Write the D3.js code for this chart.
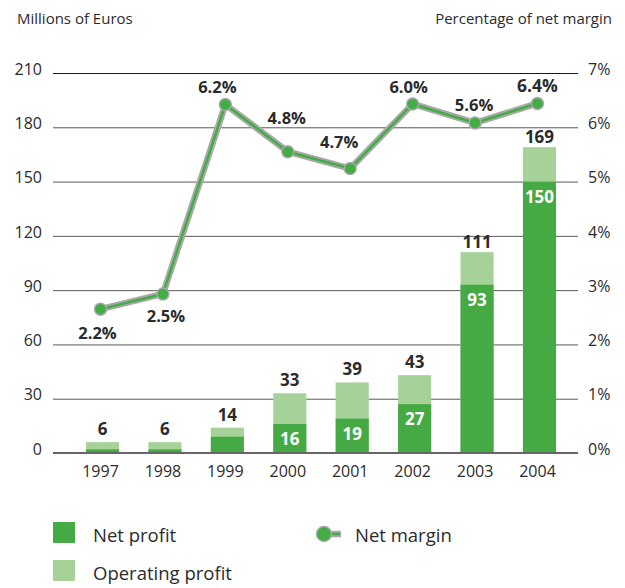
<!DOCTYPE html>
<html>
<head>
<meta charset="utf-8">
<script src="https://cdn.jsdelivr.net/npm/d3@7"></script>
<style>
  body { margin: 0; background: #fff; }
  svg { display: block; font-family: "Open Sans", "Noto Sans", sans-serif; }
</style>
</head>
<body>
<svg id="chart" width="625" height="588"></svg>
<script>
const years = ['1997', '1998', '1999', '2000', '2001', '2002', '2003', '2004'];
const operatingProfit = [6, 6, 14, 33, 39, 43, 111, 169];
const netProfit = [2, 2, 9, 16, 19, 27, 93, 150];
// where the markers sit on the right axis
const netMarginPlot = [2.65, 2.93, 6.42, 5.55, 5.24, 6.43, 6.08, 6.44];
const netMarginLabels = ['2.2%', '2.5%', '6.2%', '4.8%', '4.7%', '6.0%', '5.6%', '6.4%'];
const leftTicks = [0, 30, 60, 90, 120, 150, 180, 210];
const rightTicks = [0, 1, 2, 3, 4, 5, 6, 7];

const darkGreen = '#45aa43';
const lightGreen = '#a6d199';
const lineGreen = '#43ad45';
const lineGrey = '#a9a9a9';
const textColor = '#2b2b2b';

const svg = d3.select('#chart');
const plot = { left: 53, right: 578, top: 73, bottom: 453 };

const x = d3.scaleBand()
  .domain(years)
  .range([71.3, 570.7])
  .paddingInner(0.47)
  .paddingOuter(0.235);

const y = d3.scaleLinear().domain([0, 210]).range([plot.bottom, plot.top]);
const yPct = d3.scaleLinear().domain([0, 7]).range([plot.bottom, plot.top]);

// axis titles
svg.append('text')
  .attr('x', 17).attr('y', 24)
  .attr('font-size', 15).attr('fill', textColor)
  .text('Millions of Euros');
svg.append('text')
  .attr('x', 612).attr('y', 24)
  .attr('text-anchor', 'end')
  .attr('font-size', 15).attr('fill', textColor)
  .text('Percentage of net margin');

// gridlines + left labels
const yAxis = svg.append('g')
  .attr('transform', `translate(${plot.left},0)`)
  .call(d3.axisLeft(y).tickValues(leftTicks)
    .tickSize(-(plot.right - plot.left)).tickPadding(11));
yAxis.select('.domain').remove();
yAxis.selectAll('.tick line')
  .attr('stroke', (d) => (d === 210 ? '#1a1a1a' : '#5a5a5a'))
  .attr('stroke-width', 1);
yAxis.selectAll('.tick text')
  .attr('font-size', 16).attr('fill', textColor)
  .attr('font-family', '"Open Sans", sans-serif')
  .attr('dy', '0.08em');

// right labels
const yAxisR = svg.append('g')
  .attr('transform', `translate(${plot.right},0)`)
  .call(d3.axisRight(yPct).tickValues(rightTicks)
    .tickSize(0).tickPadding(10).tickFormat((d) => d + '%'));
yAxisR.select('.domain').remove();
yAxisR.selectAll('.tick text')
  .attr('font-size', 16).attr('fill', textColor)
  .attr('font-family', '"Open Sans", sans-serif')
  .attr('dy', '0.08em');

// bars
const bars = svg.append('g');
bars.selectAll('.op')
  .data(years)
  .join('rect')
  .attr('x', (d) => x(d))
  .attr('width', x.bandwidth())
  .attr('y', (d, i) => y(operatingProfit[i]))
  .attr('height', (d, i) => y(0) - y(operatingProfit[i]))
  .attr('fill', lightGreen);
bars.selectAll('.np')
  .data(years)
  .join('rect')
  .attr('class', 'np')
  .attr('x', (d) => x(d))
  .attr('width', x.bandwidth())
  .attr('y', (d, i) => y(netProfit[i]))
  .attr('height', (d, i) => y(0) - y(netProfit[i]))
  .attr('fill', darkGreen);

// baseline
svg.append('line')
  .attr('x1', plot.left).attr('x2', plot.right)
  .attr('y1', y(0)).attr('y2', y(0))
  .attr('stroke', '#666').attr('stroke-width', 2);

// year labels
svg.append('g').selectAll('text')
  .data(years)
  .join('text')
  .attr('x', (d) => x(d) + x.bandwidth() / 2 - 2)
  .attr('y', y(0) + 24)
  .attr('text-anchor', 'middle')
  .attr('font-size', 16).attr('fill', textColor)
  .text((d) => d);

// total labels
svg.append('g').selectAll('text')
  .data(years)
  .join('text')
  .attr('x', (d) => x(d) + x.bandwidth() / 2)
  .attr('y', (d, i) => y(operatingProfit[i]) - (i >= 6 ? 4 : 7))
  .attr('text-anchor', 'middle')
  .attr('font-size', 17).attr('font-weight', 'bold').attr('fill', textColor)
  .text((d, i) => operatingProfit[i]);

// net profit labels inside bars (only the taller ones)
svg.append('g').selectAll('text')
  .data(years.filter((d, i) => netProfit[i] >= 15))
  .join('text')
  .attr('x', (d) => x(d) + x.bandwidth() / 2)
  .attr('y', (d) => y(netProfit[years.indexOf(d)]) + 21)
  .attr('text-anchor', 'middle')
  .attr('font-size', 17).attr('font-weight', 'bold').attr('fill', '#fff')
  .text((d) => netProfit[years.indexOf(d)]);

// net margin line
const cx = (d) => x(d) + x.bandwidth() / 2 - 2;
const line = d3.line()
  .x((d) => cx(d))
  .y((d, i) => yPct(netMarginPlot[i]));

svg.append('path')
  .datum(years)
  .attr('d', line)
  .attr('fill', 'none')
  .attr('stroke', lineGrey)
  .attr('stroke-width', 6.5)
  .attr('stroke-linejoin', 'round');
svg.append('path')
  .datum(years)
  .attr('d', line)
  .attr('fill', 'none')
  .attr('stroke', lineGreen)
  .attr('stroke-width', 2.5)
  .attr('stroke-linejoin', 'round');

svg.append('g').selectAll('circle')
  .data(years)
  .join('circle')
  .attr('cx', (d) => cx(d))
  .attr('cy', (d, i) => yPct(netMarginPlot[i]))
  .attr('r', 6)
  .attr('fill', lineGreen)
  .attr('stroke', lineGrey)
  .attr('stroke-width', 1.5);

// margin label placement relative to marker [dx, dy]
const labelOffset = [[-3, 30], [3, 28], [-8, -11], [-1, -28], [-11, -21], [-4, -11], [-1, -12], [0, -11]];
svg.append('g').selectAll('text')
  .data(years)
  .join('text')
  .attr('x', (d, i) => cx(d) + labelOffset[i][0])
  .attr('y', (d, i) => yPct(netMarginPlot[i]) + labelOffset[i][1])
  .attr('text-anchor', 'middle')
  .attr('font-size', (d, i) => (i === 7 ? 17.5 : 16.5))
  .attr('font-weight', 'bold').attr('fill', textColor)
  .text((d, i) => netMarginLabels[i]);

// legend
const legend = svg.append('g');
legend.append('rect')
  .attr('x', 53).attr('y', 522).attr('width', 22).attr('height', 21)
  .attr('fill', darkGreen);
legend.append('text')
  .attr('x', 93).attr('y', 542)
  .attr('font-size', 18.5).attr('fill', textColor)
  .text('Net profit');
legend.append('rect')
  .attr('x', 53).attr('y', 560).attr('width', 22).attr('height', 21)
  .attr('fill', lightGreen);
legend.append('text')
  .attr('x', 93).attr('y', 580)
  .attr('font-size', 18.5).attr('fill', textColor)
  .text('Operating profit');

legend.append('line')
  .attr('x1', 324).attr('x2', 341).attr('y1', 534).attr('y2', 534)
  .attr('stroke', lineGrey).attr('stroke-width', 6.5);
legend.append('line')
  .attr('x1', 324).attr('x2', 340).attr('y1', 534).attr('y2', 534)
  .attr('stroke', lineGreen).attr('stroke-width', 2.5);
legend.append('circle')
  .attr('cx', 324).attr('cy', 534).attr('r', 7.5)
  .attr('fill', lineGreen)
  .attr('stroke', lineGrey).attr('stroke-width', 1.5);
legend.append('text')
  .attr('x', 355).attr('y', 542)
  .attr('font-size', 18.5).attr('fill', textColor)
  .text('Net margin');
</script>
</body>
</html>
